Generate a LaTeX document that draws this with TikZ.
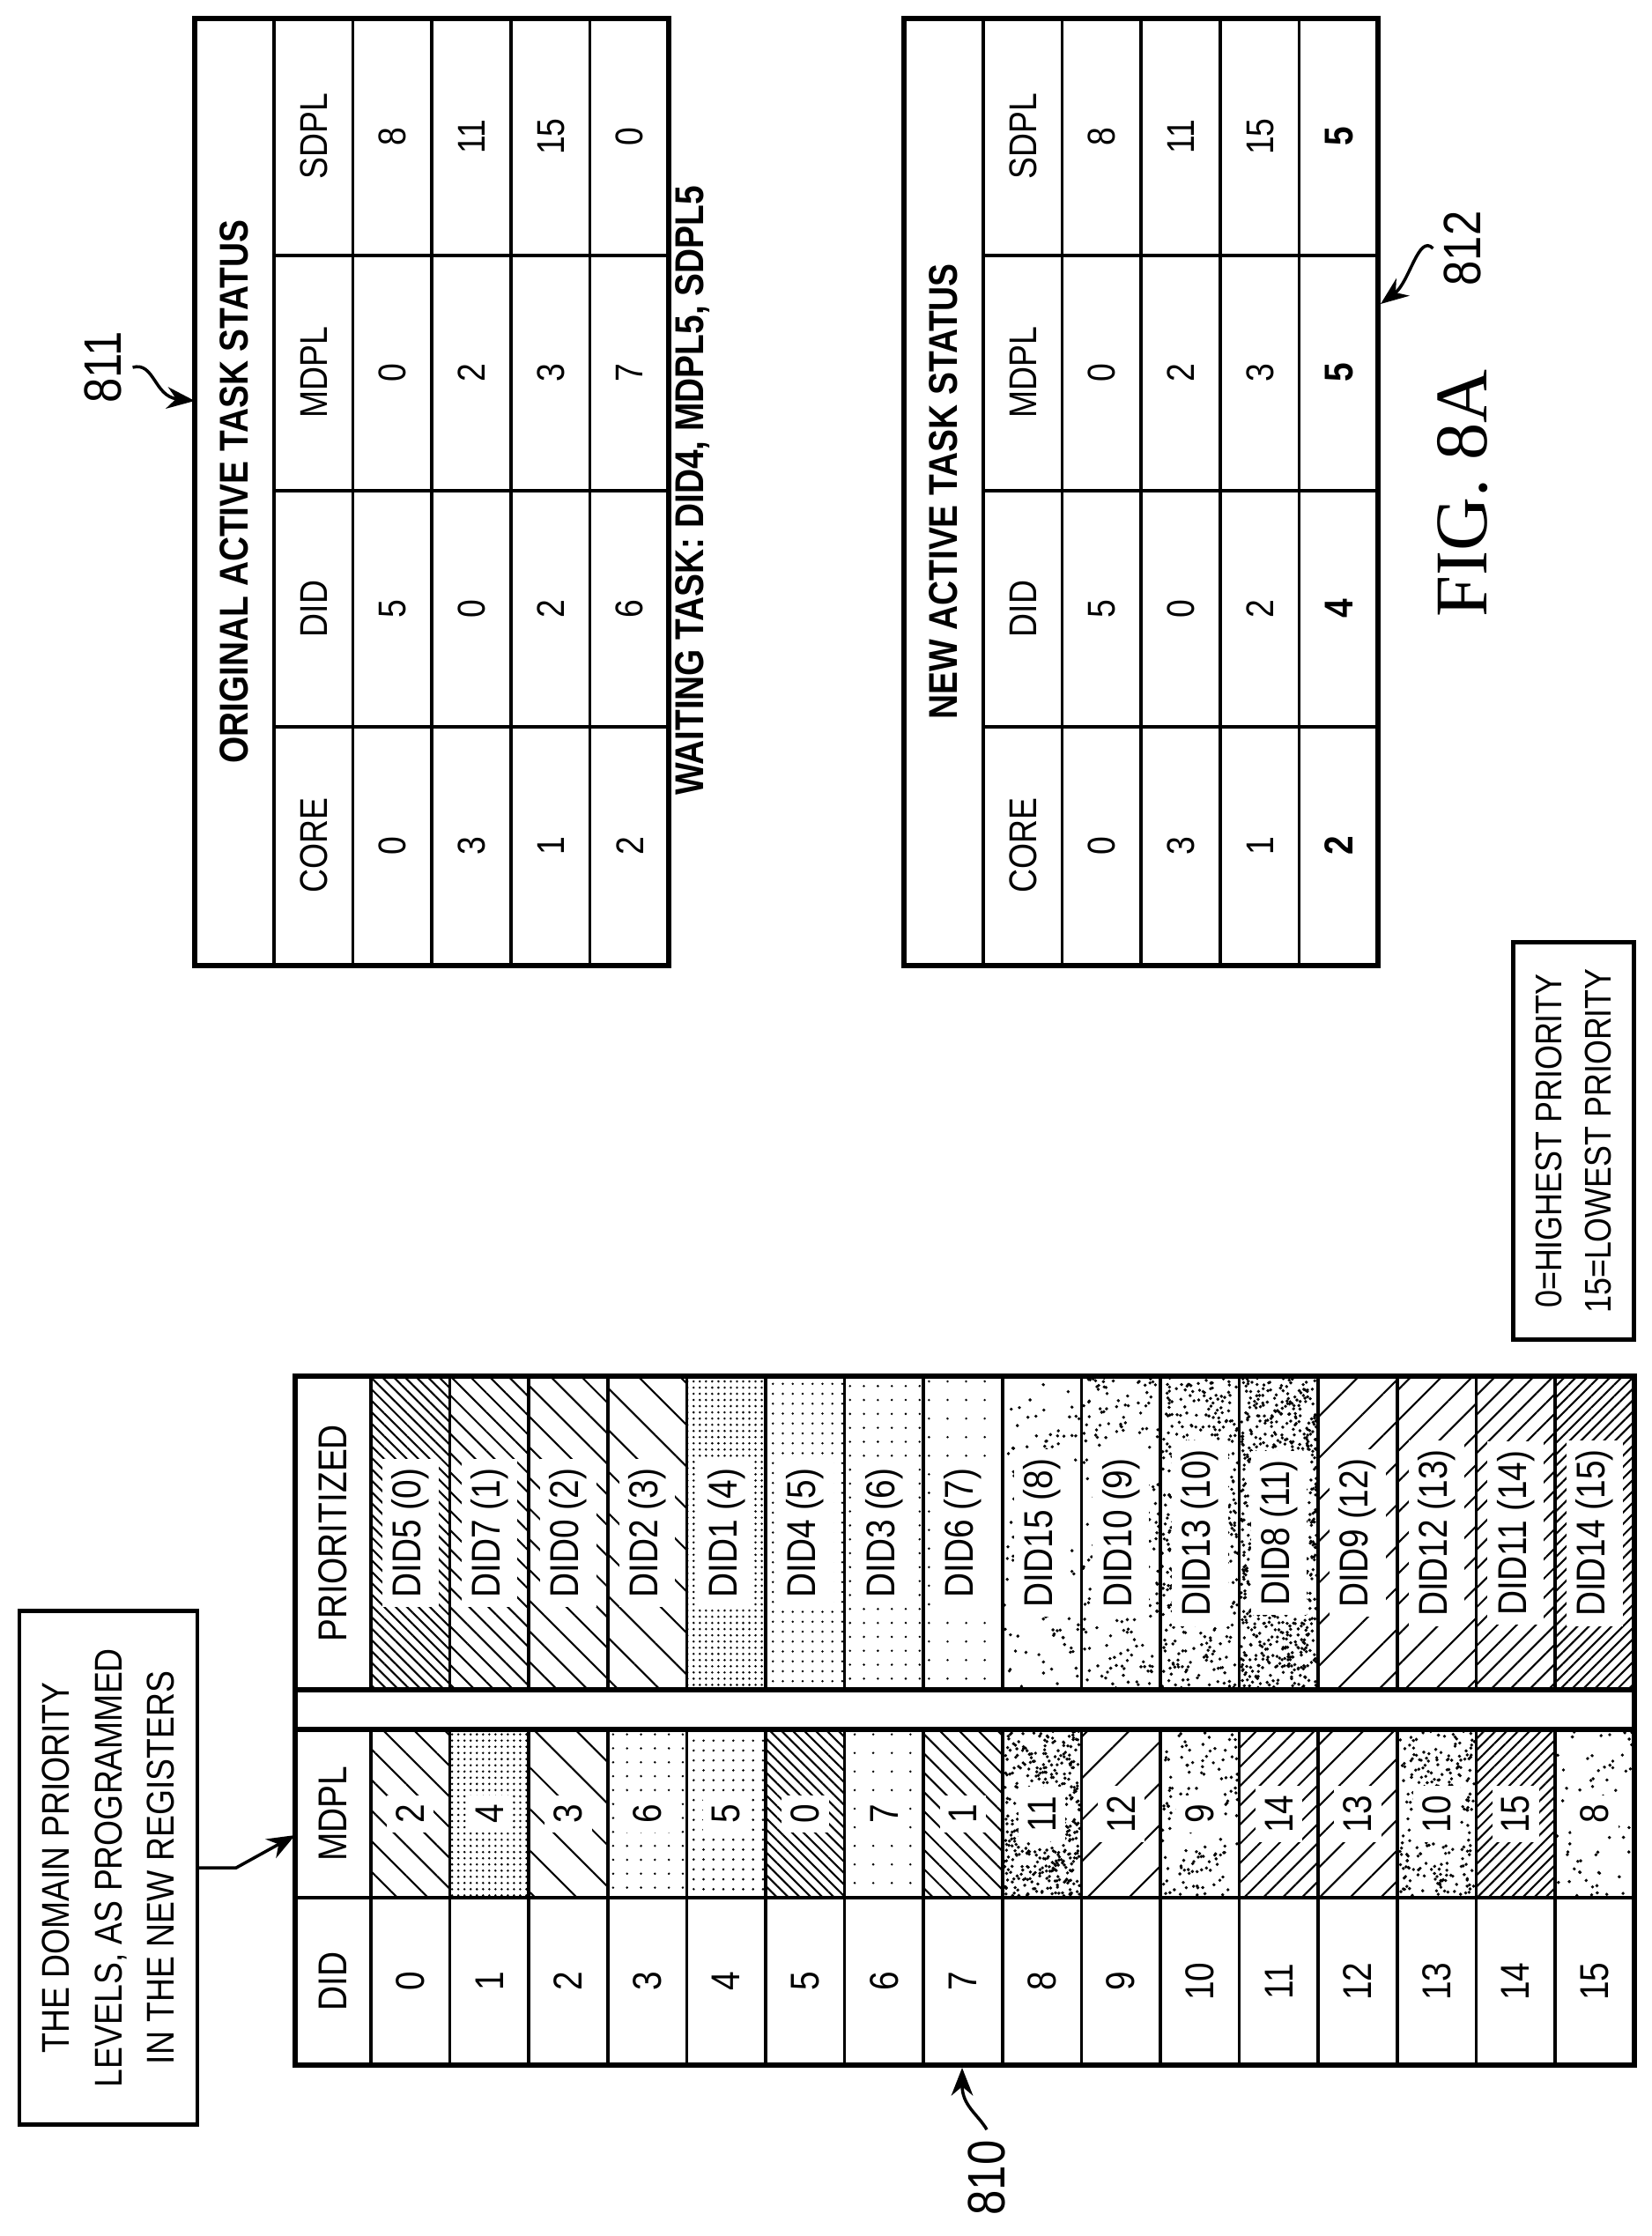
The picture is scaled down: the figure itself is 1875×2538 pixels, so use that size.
\documentclass[tikz,border=0pt]{standalone}
\usepackage{fontspec}
\setmainfont{Liberation Sans}[FakeStretch=0.85]
\newfontfamily\figfont{Liberation Serif}
\usetikzlibrary{arrows.meta, patterns.meta}

% random speckle for levels 8-11
\newcommand{\randdots}[5]{%
  \pgfmathtruncatemacro\ndots{#5*((#3-#1)/100)*((#4-#2)/100)}%
  \foreach \k in {1,...,\ndots}{\fill ({#1+2+rnd*(#3-#1-4)},{#2+2+rnd*(#4-#2-4)}) circle (0.55pt);}}

% fill of one cell by priority level
\newcommand{\levelfill}[5]{%
  \ifcase#5
    \fill[pattern={Lines[angle=-45,distance=2.6pt,line width=0.6pt]}] (#1,#2) rectangle (#3,#4);
  \or\fill[pattern={Lines[angle=-45,distance=4.4pt,line width=0.6pt]}] (#1,#2) rectangle (#3,#4);
  \or\fill[pattern={Lines[angle=-45,distance=7pt,line width=0.6pt]}] (#1,#2) rectangle (#3,#4);
  \or\fill[pattern={Lines[angle=-45,distance=9.5pt,line width=0.6pt]}] (#1,#2) rectangle (#3,#4);
  \or\fill[pattern={Dots[radius=0.4pt,distance=2pt]}] (#1,#2) rectangle (#3,#4);
  \or\fill[pattern={Dots[radius=0.4pt,distance=3.2pt]}] (#1,#2) rectangle (#3,#4);
  \or\fill[pattern={Dots[radius=0.4pt,distance=4.5pt]}] (#1,#2) rectangle (#3,#4);
  \or\fill[pattern={Dots[radius=0.4pt,distance=6pt]}] (#1,#2) rectangle (#3,#4);
  \or\randdots{#1}{#2}{#3}{#4}{40}
  \or\randdots{#1}{#2}{#3}{#4}{80}
  \or\randdots{#1}{#2}{#3}{#4}{150}
  \or\randdots{#1}{#2}{#3}{#4}{260}
  \or\fill[pattern={Lines[angle=45,distance=9.5pt,line width=0.6pt]}] (#1,#2) rectangle (#3,#4);
  \or\fill[pattern={Lines[angle=45,distance=7pt,line width=0.6pt]}] (#1,#2) rectangle (#3,#4);
  \or\fill[pattern={Lines[angle=45,distance=4.4pt,line width=0.6pt]}] (#1,#2) rectangle (#3,#4);
  \or\fill[pattern={Lines[angle=45,distance=2.6pt,line width=0.6pt]}] (#1,#2) rectangle (#3,#4);
  \fi}

\tikzset{
  lbl/.style={rotate=90, font=\fontsize{13}{15}\selectfont, inner sep=2pt},
  cell/.style={lbl, fill=white, inner sep=3pt},
  tlbl/.style={rotate=90, font=\fontsize{12.5}{15}\selectfont, inner sep=2pt},
  ttitle/.style={rotate=90, font=\bfseries\fontsize{13}{15}\selectfont, inner sep=2pt},
  grid/.style={line width=1pt},
  frame/.style={line width=1.5pt},
  arrow/.style={line width=1pt, -{Stealth[length=9pt,width=7pt]}}
}

\begin{document}
\begin{tikzpicture}[x=0.1mm, y=-0.1mm]
\useasboundingbox (0,0) rectangle (1875,2538);
\pgfmathsetseed{810}

% ---- domain priority table 810
\foreach \m/\p [count=\i from 0] in {2/5,4/7,3/0,6/2,5/1,0/4,7/3,1/6,11/15,12/10,9/13,14/8,13/9,10/12,15/11,8/14} {
  \pgfmathsetmacro\xa{421+89.6*\i}
  \pgfmathsetmacro\xb{\xa+89.6}
  \pgfmathsetmacro\xc{\xa+44.8}
  \levelfill{\xa}{1963}{\xb}{2154}{\m}
  \levelfill{\xa}{1562}{\xb}{1918}{\i}
  \draw[grid] (\xa,1562) -- (\xa,1918) (\xa,1963) -- (\xa,2344);
  \node[cell] (m\i) at (\xc,2059) {\m};
  \node[cell] (p\i) at (\xc,1740) {DID\p\ (\i)};
  \node[lbl] (d\i) at (\xc,2249) {\i};
}
\draw[grid] (335,2154) -- (1855,2154);
\draw[frame] (335,1562) rectangle (1855,2344);
\draw[frame] (335,1918) rectangle (1855,1963);
\node[lbl] (hprio) at (378,1740) {PRIORITIZED};
\node[lbl] (hmdpl) at (378,2059) {MDPL};
\node[lbl] (hdid) at (378,2249) {DID};

% ---- note box and arrow
\node[draw, line width=1.2pt, rotate=90, minimum width=58.3mm, minimum height=20.2mm, align=center,
      font=\fontsize{12.5}{17}\selectfont] (note) at (123,2120)
      {THE DOMAIN PRIORITY\\LEVELS, AS PROGRAMMED\\IN THE NEW REGISTERS};
\coordinate (mdplhd) at (335,2083);
\draw[arrow] (note.south) -- ++(42,0) -- (mdplhd);

\node[rotate=90, font=\fontsize{17}{19}\selectfont] (lab810) at (1120,2472) {810};
\coordinate (tab810) at (1092,2347);
\draw[arrow] (lab810.east) .. controls (1110,2400) and (1092,2390) .. (tab810);

% ---- legend
\node[draw, line width=1.2pt, rotate=90, minimum width=45.1mm, minimum height=13.7mm, align=center,
      font=\fontsize{12}{16}\selectfont] (legend) at (1786,1295)
      {0=HIGHEST PRIORITY\\15=LOWEST PRIORITY};

% ---- original active task status 811
\foreach \k in {2,...,5} \draw[grid] ({221+89.7*\k},21) -- ({221+89.7*\k},1096);
\draw[grid] (311,21) -- (311,1096);
\foreach \y in {290,557,825} \draw[grid] (311,\y) -- (759,\y);
\draw[frame] (221,21) rectangle (759,1096);
\node[ttitle] (t811) at (266,558) {ORIGINAL ACTIVE TASK STATUS};
\foreach \c/\y in {CORE/960,DID/691,MDPL/423,SDPL/155}
  \node[tlbl] at (356,\y) {\c};
\foreach \a/\b/\c/\d [count=\r] in {0/5/0/8,3/0/2/11,1/2/3/15,2/6/7/0} {
  \pgfmathsetmacro\xc{356+89.7*\r}
  \node[tlbl] at (\xc,960) {\a};
  \node[tlbl] at (\xc,691) {\b};
  \node[tlbl] at (\xc,423) {\c};
  \node[tlbl] at (\xc,155) {\d};
}
\node[ttitle] (wait) at (786,557) {WAITING TASK: DID4, MDPL5, SDPL5};
\node[rotate=90, font=\fontsize{17}{19}\selectfont] (lab811) at (117,417) {811};
\coordinate (tab811) at (221,455);
\draw[arrow] (lab811.south) .. controls (175,410) and (175,450) .. (tab811);

% ---- new active task status 812
\foreach \k in {2,...,5} \draw[grid] ({1026+89.7*\k},21) -- ({1026+89.7*\k},1096);
\draw[grid] (1116,21) -- (1116,1096);
\foreach \y in {290,557,825} \draw[grid] (1116,\y) -- (1564,\y);
\draw[frame] (1026,21) rectangle (1564,1096);
\node[ttitle] (t812) at (1071,558) {NEW ACTIVE TASK STATUS};
\foreach \c/\y in {CORE/960,DID/691,MDPL/423,SDPL/155}
  \node[tlbl] at (1161,\y) {\c};
\foreach \a/\b/\c/\d [count=\r] in {0/5/0/8,3/0/2/11,1/2/3/15} {
  \pgfmathsetmacro\xc{1161+89.7*\r}
  \node[tlbl] at (\xc,960) {\a};
  \node[tlbl] at (\xc,691) {\b};
  \node[tlbl] at (\xc,423) {\c};
  \node[tlbl] at (\xc,155) {\d};
}
\node[ttitle] at (1520,960) {2};
\node[ttitle] at (1520,691) {4};
\node[ttitle] at (1520,423) {5};
\node[ttitle] at (1520,155) {5};
\node[rotate=90, font=\fontsize{17}{19}\selectfont] (lab812) at (1660,282) {812};
\coordinate (tab812) at (1567,345);
\draw[arrow] (lab812.north) .. controls (1610,265) and (1600,320) .. (tab812);

\node[rotate=90, font=\figfont\fontsize{24}{26}\selectfont] (fig) at (1660,560) {FIG. 8A};
\end{tikzpicture}
\end{document}
